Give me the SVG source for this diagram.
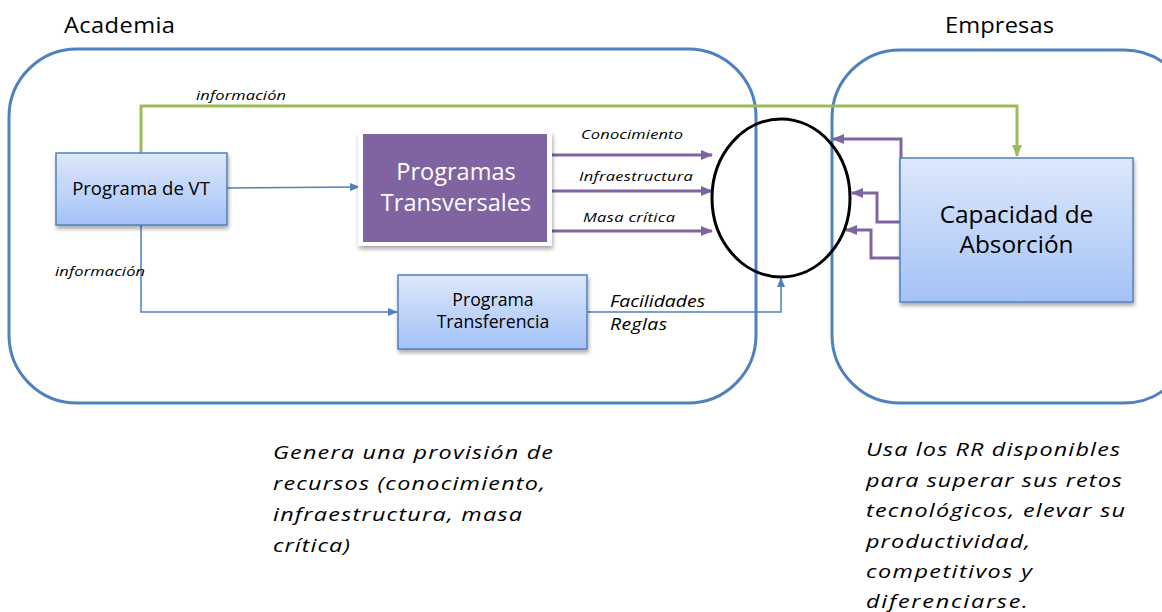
<svg xmlns="http://www.w3.org/2000/svg" width="1162" height="612" viewBox="0 0 1162 612">
<style>
.zone{fill:none;stroke:#4f81bd;stroke-width:3}
.title{font-family:"Open Sans","Liberation Sans",sans-serif;font-size:21.5px;fill:#000}
.node{fill:url(#blueGrad);stroke:#4f81bd;stroke-width:1.5}
.lbl{font-family:"Open Sans","Liberation Sans",sans-serif;fill:#000;text-anchor:middle}
.wlbl{font-family:"Open Sans","Liberation Sans",sans-serif;fill:#fff;text-anchor:middle;font-size:23.5px}
.it{font-family:"Open Sans","Liberation Sans",sans-serif;font-style:italic;fill:#000}
.sm{font-size:13.5px}
.md{font-size:15.5px}
.note{font-size:18px}
.blue{fill:none;stroke:#4f81bd;stroke-width:1.5}
.purple{fill:none;stroke:#8064a2;stroke-width:3}
.green{fill:none;stroke:#9bbb59;stroke-width:3}
</style>
<defs>
<linearGradient id="blueGrad" x1="0" y1="0" x2="0" y2="1">
<stop offset="0" stop-color="#dde8fb"/>
<stop offset="1" stop-color="#a4c2f7"/>
</linearGradient>
<filter id="sh" x="-10%" y="-10%" width="130%" height="140%">
<feGaussianBlur in="SourceAlpha" stdDeviation="2"/>
<feOffset dx="1" dy="3"/>
<feComponentTransfer><feFuncA type="linear" slope="0.35"/></feComponentTransfer>
<feMerge><feMergeNode/><feMergeNode in="SourceGraphic"/></feMerge>
</filter>
<marker id="ab" markerWidth="10" markerHeight="8" refX="9" refY="4" orient="auto" markerUnits="userSpaceOnUse">
<path d="M0,0 L10,4 L0,8 Z" fill="#4f81bd"/>
</marker>
<marker id="ap" markerWidth="12" markerHeight="10" refX="11" refY="5" orient="auto" markerUnits="userSpaceOnUse">
<path d="M0,0 L12,5 L0,10 Z" fill="#8064a2"/>
</marker>
<marker id="ag" markerWidth="12" markerHeight="10" refX="11" refY="5" orient="auto" markerUnits="userSpaceOnUse">
<path d="M0,0 L12,5 L0,10 Z" fill="#9bbb59"/>
</marker>
</defs>
<rect width="1162" height="612" fill="#fff"/>

<g id="academia">
<rect class="zone" x="9" y="49" width="747" height="354" rx="68" ry="68"/>
<text class="title" transform="translate(64 33) scale(1.1 1)" textLength="100.9" lengthAdjust="spacing">Academia</text>
</g>
<g id="empresas">
<rect class="zone" x="832" y="50" width="360" height="353" rx="68" ry="68"/>
<text class="title" transform="translate(945 33) scale(1.1 1)" textLength="99.1" lengthAdjust="spacing">Empresas</text>
</g>

<g id="connectors">
<polyline class="green" points="141,153 141,106 1017,106 1017,156" marker-end="url(#ag)"/>
<text class="it sm" transform="translate(196 100) scale(1.22 1)" textLength="73.8" lengthAdjust="spacing">información</text>
<line class="blue" x1="227" y1="188" x2="359" y2="187" marker-end="url(#ab)"/>
<polyline class="blue" points="141,225 141,312 397,312" marker-end="url(#ab)"/>
<text class="it sm" transform="translate(55 276) scale(1.22 1)" textLength="73.8" lengthAdjust="spacing">información</text>
<line class="purple" x1="550" y1="155" x2="712" y2="155" marker-end="url(#ap)"/>
<line class="purple" x1="550" y1="191" x2="712" y2="191" marker-end="url(#ap)"/>
<line class="purple" x1="550" y1="231" x2="712" y2="231" marker-end="url(#ap)"/>
<text class="it sm" transform="translate(581 139) scale(1.22 1)" textLength="83.6" lengthAdjust="spacing">Conocimiento</text>
<text class="it sm" transform="translate(579 181) scale(1.22 1)" textLength="93.4" lengthAdjust="spacing">Infraestructura</text>
<text class="it sm" transform="translate(583 222) scale(1.22 1)" textLength="75.4" lengthAdjust="spacing">Masa crítica</text>
<polyline class="blue" points="587,312 781,312 781,278" marker-end="url(#ab)"/>
<text class="it md" transform="translate(610 307) scale(1.25 1)" textLength="76" lengthAdjust="spacing">Facilidades</text>
<text class="it md" transform="translate(610 330) scale(1.25 1)" textLength="45.6" lengthAdjust="spacing">Reglas</text>
<polyline class="purple" points="901,212 901,139 833,139" marker-end="url(#ap)"/>
<polyline class="purple" points="902,222 877,222 877,193 852,193" marker-end="url(#ap)"/>
<polyline class="purple" points="902,258 871,258 871,230 846,230" marker-end="url(#ap)"/>
</g>

<g id="programa-vt">
<rect class="node" x="56" y="153" width="171" height="72" filter="url(#sh)"/>
<text class="lbl" x="141" y="195" font-size="18.5">Programa de VT</text>
</g>

<g id="programas-transversales">
<rect x="358" y="132" width="194" height="114" fill="#fff" filter="url(#sh)"/>
<rect x="363" y="134" width="184" height="108" fill="#8064a2"/>
<text class="wlbl" x="456" y="180">Programas</text>
<text class="wlbl" x="456" y="211">Transversales</text>
</g>

<g id="programa-transferencia">
<rect class="node" x="398" y="275" width="189" height="74" filter="url(#sh)"/>
<text class="lbl" x="493" y="306" font-size="17.7">Programa</text>
<text class="lbl" x="493" y="328" font-size="17.7">Transferencia</text>
</g>

<g id="recursos">
<ellipse cx="781" cy="198" rx="69" ry="79" fill="none" stroke="#000" stroke-width="3"/>
</g>

<g id="capacidad">
<rect class="node" x="900" y="158" width="233" height="144" filter="url(#sh)"/>
<text class="lbl" x="1016.5" y="223" font-size="24.4">Capacidad de</text>
<text class="lbl" x="1016.5" y="253" font-size="24.4">Absorción</text>
</g>

<g id="nota-academia">
<text class="it note" transform="translate(273 459) scale(1.3 1)" textLength="215.4" lengthAdjust="spacing">Genera una provisión de</text>
<text class="it note" transform="translate(273 490) scale(1.3 1)" textLength="209.2" lengthAdjust="spacing">recursos (conocimiento,</text>
<text class="it note" transform="translate(273 521) scale(1.3 1)" textLength="191.5" lengthAdjust="spacing">infraestructura, masa</text>
<text class="it note" transform="translate(273 552) scale(1.3 1)" textLength="59.2" lengthAdjust="spacing">crítica)</text>
</g>
<g id="nota-empresas">
<text class="it note" transform="translate(866 456) scale(1.3 1)" textLength="195.4" lengthAdjust="spacing">Usa los RR disponibles</text>
<text class="it note" transform="translate(866 487) scale(1.3 1)" textLength="196.9" lengthAdjust="spacing">para superar sus retos</text>
<text class="it note" transform="translate(866 517) scale(1.3 1)" textLength="199.2" lengthAdjust="spacing">tecnológicos, elevar su</text>
<text class="it note" transform="translate(866 548) scale(1.3 1)" textLength="126.2" lengthAdjust="spacing">productividad,</text>
<text class="it note" transform="translate(866 578) scale(1.3 1)" textLength="127.7" lengthAdjust="spacing">competitivos y</text>
<text class="it note" transform="translate(866 608) scale(1.3 1)" textLength="124.6" lengthAdjust="spacing">diferenciarse.</text>
</g>
</svg>
